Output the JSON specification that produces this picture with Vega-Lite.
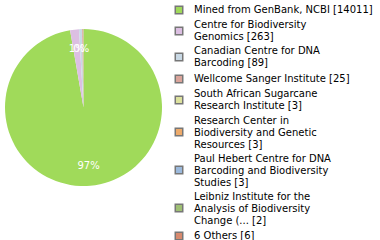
{
  "$schema": "https://vega.github.io/schema/vega-lite/v6.json",
  "autosize": {"type": "none"},
  "padding": {"left": 0, "top": 0, "right": 213, "bottom": 25},
  "width": 167,
  "height": 215,
  "background": "white",
  "config": {"view": {"stroke": null}},
  "data": {"values": [
    {"idx": 1, "org": "Mined from GenBank, NCBI [14011]", "n": 14011, "pct": "97%"},
    {"idx": 2, "org": "Centre for Biodiversity|Genomics [263]", "n": 263, "pct": "1%"},
    {"idx": 3, "org": "Canadian Centre for DNA|Barcoding [89]", "n": 89, "pct": "0%"},
    {"idx": 4, "org": "Wellcome Sanger Institute [25]", "n": 25, "pct": ""},
    {"idx": 5, "org": "South African Sugarcane|Research Institute [3]", "n": 3, "pct": ""},
    {"idx": 6, "org": "Research Center in|Biodiversity and Genetic|Resources [3]", "n": 3, "pct": ""},
    {"idx": 7, "org": "Paul Hebert Centre for DNA|Barcoding and Biodiversity|Studies [3]", "n": 3, "pct": ""},
    {"idx": 8, "org": "Leibniz Institute for the|Analysis of Biodiversity|Change (... [2]", "n": 2, "pct": ""},
    {"idx": 9, "org": "6 Others [6]", "n": 6, "pct": ""}
  ]},
  "encoding": {
    "theta": {"field": "n", "type": "quantitative", "stack": true},
    "order": {"field": "idx", "type": "quantitative"}
  },
  "layer": [
    {
      "mark": {"type": "arc", "outerRadius": 78.5},
      "encoding": {
        "color": {
          "field": "org", "type": "nominal",
          "scale": {
            "domain": [
              "Mined from GenBank, NCBI [14011]",
              "Centre for Biodiversity|Genomics [263]",
              "Canadian Centre for DNA|Barcoding [89]",
              "Wellcome Sanger Institute [25]",
              "South African Sugarcane|Research Institute [3]",
              "Research Center in|Biodiversity and Genetic|Resources [3]",
              "Paul Hebert Centre for DNA|Barcoding and Biodiversity|Studies [3]",
              "Leibniz Institute for the|Analysis of Biodiversity|Change (... [2]",
              "6 Others [6]"
            ],
            "range": ["#a0da5a", "#dcbfe2", "#c9d9e5", "#dba59b", "#dde29e", "#eeab6b", "#9cbadd", "#9fc074", "#d88a6e"]
          },
          "legend": {
            "title": null,
            "orient": "none",
            "legendX": 174,
            "legendY": 5,
            "symbolType": "square",
            "symbolSize": 56,
            "symbolStrokeColor": "#777777",
            "symbolStrokeWidth": 1.5,
            "symbolOpacity": 1,
            "labelFont": "DejaVu Sans",
            "labelFontSize": 10,
            "labelColor": "#000000",
            "labelOffset": 10,
            "labelLimit": 300,
            "labelLineHeight": 11.5,
            "labelBaseline": "middle",
            "rowPadding": 3,
            "labelExpr": "split(datum.label, '|')",
            "encode": {
              "labels": {
                "update": {
                  "dy": {"signal": "-(length(split(datum.value, '|')) - 1) * 5.75"}
                }
              }
            }
          }
        }
      }
    },
    {
      "mark": {"type": "text", "radius": 58.8, "font": "DejaVu Sans", "fontSize": 10, "color": "white"},
      "encoding": {"text": {"field": "pct"}}
    }
  ]
}
